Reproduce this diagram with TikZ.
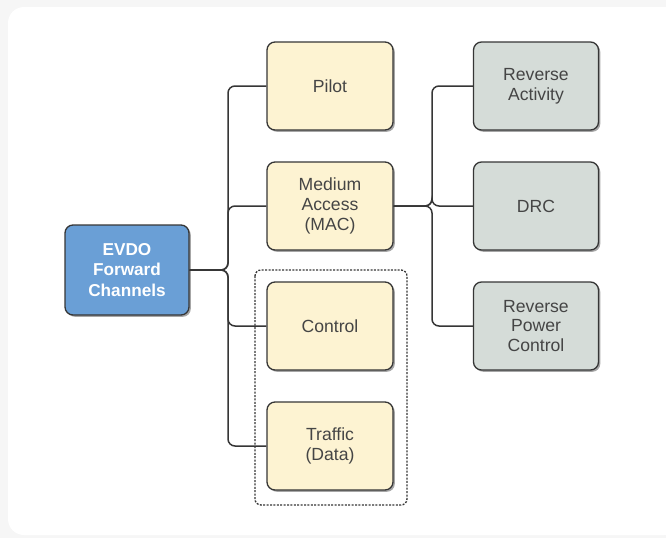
\documentclass[tikz,border=0pt]{standalone}
\usepackage{fontspec}
\setmainfont{Liberation Sans}
\usetikzlibrary{shadows}
\definecolor{pagebg}{HTML}{F6F6F6}
\definecolor{blockblue}{HTML}{6A9FD6}
\definecolor{blockcream}{HTML}{FDF3D2}
\definecolor{blockgray}{HTML}{D5DCD8}
\definecolor{edgedark}{HTML}{363636}
\definecolor{textgray}{HTML}{454545}
\tikzset{
  chanbox/.style={draw=edgedark, line width=1.3pt, rounded corners=8pt,
    minimum width=126pt, minimum height=88pt, align=center,
    font=\fontsize{17.6}{19.6}\selectfont, text=textgray,
    drop shadow={shadow xshift=1.8pt, shadow yshift=-1.8pt, opacity=0.35, fill=black}},
  rootbox/.style={chanbox, fill=blockblue, text=white, minimum width=124pt, minimum height=90pt,
    font=\fontsize{17.2}{20.5}\selectfont\bfseries},
  fwdbox/.style={chanbox, fill=blockcream},
  revbox/.style={chanbox, fill=blockgray, minimum width=125pt},
  link/.style={draw=edgedark, line width=1.5pt, rounded corners=7pt},
  groupframe/.style={draw=edgedark, line width=1.3pt, dash pattern=on 2pt off 1.4pt, rounded corners=6pt}
}
\begin{document}
\begin{tikzpicture}[x=1pt, y=-1pt]
  \useasboundingbox (0,0) rectangle (666,538);
  % page and card
  \fill[pagebg] (0,0) rectangle (666,538);
  \fill[white, rounded corners=16pt] (8,7) rectangle (680,535);

  % grouping frame round control and traffic
  \draw[groupframe] (255,270) rectangle (407,505);

  % blocks
  \node[rootbox] (evdo) at (127,270) {EVDO\\Forward\\Channels};
  \node[fwdbox] (pilot) at (330,86) {Pilot};
  \node[fwdbox] (mac) at (330,206) {Medium\\Access\\(MAC)};
  \node[fwdbox] (ctrl) at (330,326) {Control};
  \node[fwdbox] (traf) at (330,446) {Traffic\\(Data)};
  \node[revbox] (ract) at (536,86) {Reverse\\Activity};
  \node[revbox] (drc) at (536,206) {DRC};
  \node[revbox] (rpc) at (536,326) {Reverse\\Power\\Control};

  % forward channel tree
  \coordinate (fbus) at (228,270);
  \foreach \t in {pilot,mac,ctrl,traf}
    \draw[link] (evdo.east) -- (fbus) |- (\t.west);

  % MAC sub-channel tree
  \coordinate (rbus) at (432,206);
  \foreach \t in {ract,drc,rpc}
    \draw[link] (mac.east) -- (rbus) |- (\t.west);
\end{tikzpicture}
\end{document}
